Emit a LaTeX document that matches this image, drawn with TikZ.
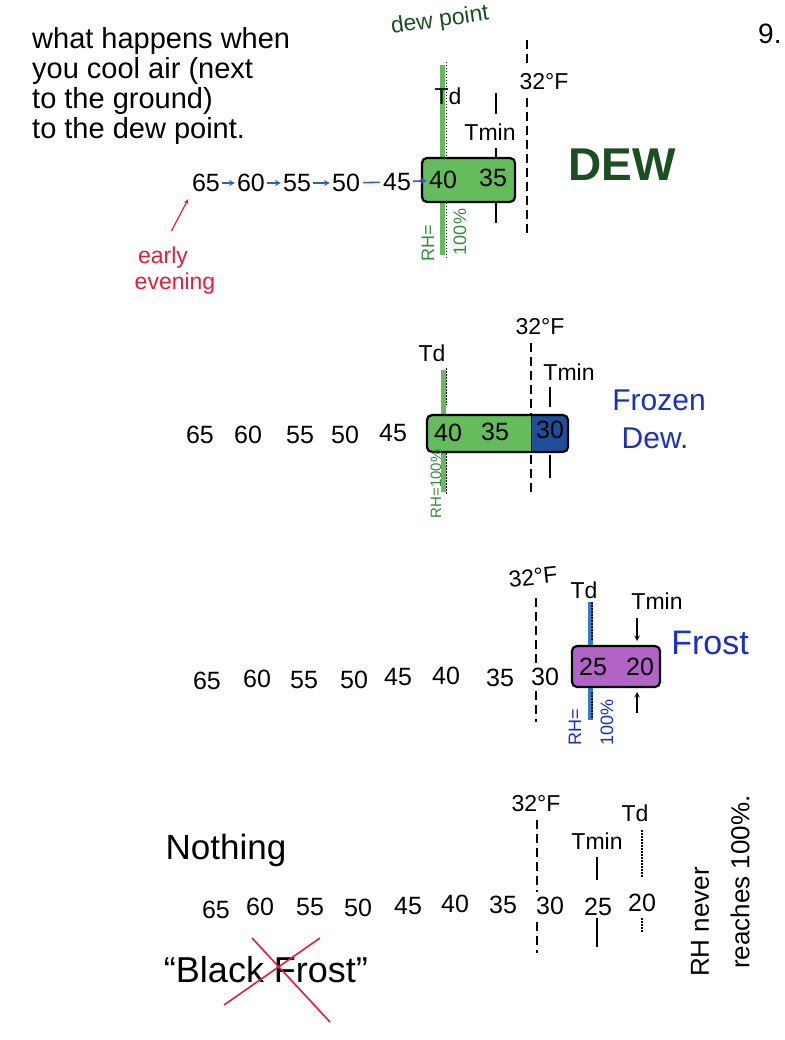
\documentclass[tikz,border=0pt]{standalone}
\usepackage{fontspec}
\setmainfont{Liberation Sans}
\usetikzlibrary{arrows}
\definecolor{dewgreen}{RGB}{28,78,34}
\definecolor{markgreen}{RGB}{100,188,92}
\definecolor{rhgreen}{RGB}{50,140,60}
\definecolor{inkblue}{RGB}{28,48,190}
\definecolor{arrblue}{RGB}{40,95,205}
\definecolor{tdblue}{RGB}{45,125,200}
\definecolor{icedblue}{RGB}{32,78,155}
\definecolor{frostpurple}{RGB}{178,100,198}
\definecolor{inkred}{RGB}{225,30,60}

\begin{document}
\begin{tikzpicture}[x=1pt, y=-1pt,
                num/.style = {inner sep = 0pt, font = \fontsize{25}{25}\selectfont},
                hand/.style = {inner sep = 0pt, font = \fontsize{23}{23}\selectfont},
                rh/.style = {inner sep = 0pt, rotate = 90, font = \fontsize{18}{18}\selectfont},
                box/.style = {draw, line width = 2.2pt, rounded corners = 5pt, inner sep = 0pt},
                tick/.style = {draw, line width = 1.4pt},
                freeze/.style = {draw, line width = 1.4pt, dash pattern = on 9pt off 5pt},
                tdline/.style = {draw, line width = 5pt},
                dots/.style = {draw, line width = 1.8pt, dash pattern = on 1.5pt off 1.5pt},
                arr/.style = {draw, line width = 1.6pt, ->, >=stealth, shorten <= 2pt, shorten >= 2pt},
            ]
            \useasboundingbox (0, 0) rectangle (784, 1040);
            \fill[white] (0, 0) rectangle (784, 1040);

            % cooling to the dew point
            \node (intro) at (32, 27) [anchor = north west, inner sep = 0pt, align = left,
                font = \fontsize{29}{30}\selectfont] {what happens when\\you cool air (next\\to the ground)\\to the dew point.};
            \node (page) at (758, 34) [anchor = west, inner sep = 0pt, font = \fontsize{28}{28}\selectfont] {9.};

            \node (dp) at (440, 21) [hand, rotate = 8, text = dewgreen] {dew point};
            \path[tdline, markgreen] (442, 65) -- (442, 255);
            \path[dots] (446.5, 62) -- (446.5, 157);
            \path[dots] (446.5, 203) -- (446.5, 258);
            \node (td1) at (448, 96) [hand] {Td};

            \path[freeze] (527, 40) -- (527, 66);
            \path[freeze] (527, 98) -- (527, 235);
            \node (f1) at (544, 82) [hand] {32°F};

            \path[tick] (496, 93) -- (496, 114);
            \node (tmin1) at (490, 132) [hand] {Tmin};
            \path[tick] (496, 148) -- (496, 158);
            \path[tick] (496, 202) -- (496, 223);

            \node (b1) at (468.5, 180) [box, fill = markgreen, minimum width = 93pt, minimum height = 44pt] {};

            \node (n165) at (206, 183) [num] {65};
            \node (n160) at (251, 183) [num] {60};
            \node (n155) at (297, 183) [num] {55};
            \node (n150) at (346, 183) [num] {50};
            \node (n145) at (397, 182) [num] {45};
            \node (n140) at (443, 180) [num] {40};
            \node (n135) at (493, 178) [num] {35};

            \path[arr, arrblue] (n165) -- (n160);
            \path[arr, arrblue] (n160) -- (n155);
            \path[arr, arrblue] (n155) -- (n150);
            \path[draw, line width = 1.6pt, arrblue, shorten <= 3pt, shorten >= 3pt] (n150) -- (n145);
            \path[arr, arrblue] (n145) -- (n140);

            \node (rh1a) at (428, 243) [rh, text = rhgreen] {RH=};
            \node (rh1b) at (460, 232) [rh, text = rhgreen] {100\%};

            \node (dew) at (622, 165) [inner sep = 0pt, text = dewgreen, font = \fontsize{46}{46}\selectfont\bfseries] {DEW};

            \node (early) at (163, 258) [hand, text = inkred] {early};
            \node (evening) at (175, 284) [hand, text = inkred] {evening};
            \path[arr, inkred, line width = 1.2pt, shorten <= 18pt, shorten >= 8pt] (early.north) -- (n165.south west);

            % frozen dew
            \node (f2) at (540, 327) [hand] {32°F};
            \node (td2) at (432, 353) [hand] {Td};
            \node (tmin2) at (569, 372) [hand] {Tmin};
            \path[tdline, markgreen] (443, 370) -- (443, 492);
            \path[dots] (446.5, 368) -- (446.5, 405);
            \path[dots] (446.5, 453) -- (446.5, 494);
            \path[freeze] (531, 343) -- (531, 493);
            \path[tick] (550, 387) -- (550, 407);
            \path[tick] (550, 455) -- (550, 478);

            \begin{scope}
                \clip[rounded corners = 5pt] (427, 415) rectangle (568, 452);
                \fill[markgreen] (427, 415) rectangle (531, 452);
                \fill[icedblue] (531, 415) rectangle (568, 452);
            \end{scope}
            \node (b2) at (497.5, 433.5) [box, minimum width = 141pt, minimum height = 37pt] {};
            \path[draw, thick] (531, 415) -- (531, 452);

            \node (n265) at (200, 435) [num] {65};
            \node (n260) at (248, 435) [num] {60};
            \node (n255) at (300, 435) [num] {55};
            \node (n250) at (345, 435) [num] {50};
            \node (n245) at (393, 433) [num] {45};
            \node (n240) at (448, 433) [num] {40};
            \node (n235) at (495, 432) [num] {35};
            \node (n230) at (550, 430) [num] {30};

            \node (rh2) at (436, 484) [rh, font = \fontsize{15}{15}\selectfont, text = rhgreen] {RH=100\%};
            \node (frozen) at (659, 400) [inner sep = 0pt, text = inkblue, font = \fontsize{30}{30}\selectfont] {Frozen};
            \node (dew2) at (655, 438) [inner sep = 0pt, text = inkblue, font = \fontsize{30}{30}\selectfont] {Dew.};

            % frost
            \node (f3) at (533, 577) [hand, rotate = 6] {32°F};
            \node (td3) at (584, 590) [hand] {Td};
            \node (tmin3) at (657, 601) [hand] {Tmin};
            \path[freeze] (536, 598) -- (536, 664);
            \path[freeze] (536, 691) -- (536, 722);
            \path[tdline, tdblue] (590, 602) -- (590, 720);
            \path[dots] (592, 602) -- (592, 640);
            \path[dots] (592, 692) -- (592, 718);
            \path[tick, -stealth] (637, 618) -- (637, 641);
            \path[tick, -stealth] (637, 713) -- (637, 692);

            \node (b3) at (616, 666.5) [box, fill = frostpurple, minimum width = 88pt, minimum height = 41pt] {};
            \node (n365) at (207, 681) [num] {65};
            \node (n360) at (257, 679) [num] {60};
            \node (n355) at (304, 680) [num] {55};
            \node (n350) at (354, 680) [num] {50};
            \node (n345) at (398, 677) [num] {45};
            \node (n340) at (446, 676) [num] {40};
            \node (n335) at (500, 678) [num] {35};
            \node (n330) at (545, 677) [num] {30};
            \node (n325) at (593, 667) [num] {25};
            \node (n320) at (640, 667) [num] {20};

            \node (rh3a) at (575, 727) [rh, text = inkblue] {RH=};
            \node (rh3b) at (607, 722) [rh, text = inkblue] {100\%};
            \node (frost) at (710, 643) [inner sep = 0pt, text = inkblue, font = \fontsize{34}{34}\selectfont] {Frost};

            % nothing
            \node (nothing) at (226, 850) [inner sep = 0pt, font = \fontsize{35}{35}\selectfont] {Nothing};
            \node (f4) at (536, 804) [hand] {32°F};
            \node (td4) at (635, 813) [hand] {Td};
            \node (tmin4) at (597, 841) [hand] {Tmin};
            \path[freeze] (537, 820) -- (537, 892);
            \path[freeze] (537, 922) -- (537, 953);
            \path[tick] (597, 857) -- (597, 880);
            \path[tick] (597, 918) -- (597, 947);
            \path[dots] (642, 830) -- (642, 877);
            \path[dots] (642, 918) -- (642, 933);

            \node (n465) at (216, 910) [num] {65};
            \node (n460) at (260, 907) [num] {60};
            \node (n455) at (310, 907) [num] {55};
            \node (n450) at (358, 908) [num] {50};
            \node (n445) at (408, 906) [num] {45};
            \node (n440) at (455, 904) [num] {40};
            \node (n435) at (503, 905) [num] {35};
            \node (n430) at (550, 906) [num] {30};
            \node (n425) at (598, 907) [num] {25};
            \node (n420) at (642, 903) [num] {20};

            \node (never) at (700, 922) [rh, font = \fontsize{26}{26}\selectfont] {RH never};
            \node (reaches) at (740, 882) [rh, font = \fontsize{26}{26}\selectfont] {reaches 100\%.};

            \node (black) at (266, 970) [inner sep = 0pt, font = \fontsize{36}{36}\selectfont] {``Black Frost''};
            \path[draw, inkred, line width = 1.6pt] (224, 1005) -- (320, 938);
            \path[draw, inkred, line width = 1.6pt] (252, 938) -- (330, 1022);
        \end{tikzpicture}
\end{document}
